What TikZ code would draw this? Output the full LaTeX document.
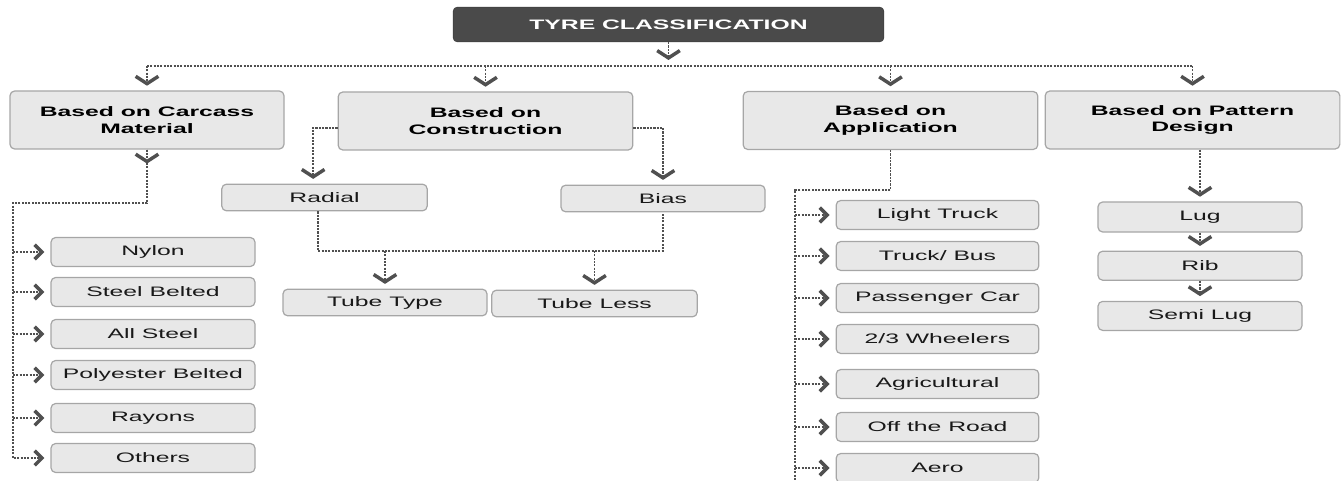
\documentclass[tikz,border=0pt]{standalone}
\usepackage{fontspec}
\setmainfont{Liberation Sans}[FakeStretch=1.8]
\usepackage{tikz}
\usetikzlibrary{arrows.meta}
\usetikzlibrary{positioning}
\definecolor{boxgray}{HTML}{E8E8E8}
\definecolor{edgegray}{HTML}{A6A6A6}
\definecolor{titlegray}{HTML}{4A4A4A}
\definecolor{linkgray}{HTML}{505050}

\begin{document}
\begin{tikzpicture}[x=0.75pt, y=-0.75pt,
                font=\fontsize{10.3}{12.4}\selectfont,
                root/.style={fill=titlegray, draw=titlegray!80!black,
                    rounded corners=3pt, text=white,
                    font=\fontsize{10.3}{12}\selectfont\bfseries,
                    minimum width=323pt, minimum height=26pt, inner sep=0pt},
                cat/.style={fill=boxgray, draw=edgegray, line width=0.9pt,
                    rounded corners=3.5pt, align=center,
                    font=\fontsize{10.3}{12.4}\selectfont\bfseries,
                    minimum width=221pt, minimum height=43.5pt, inner sep=0pt},
                leaf/.style={fill=boxgray, draw=edgegray, line width=0.9pt,
                    rounded corners=3.5pt, text=black!90,
                    minimum width=153pt, minimum height=21.75pt, inner sep=0pt},
                link/.style={draw=linkgray, line width=1.3pt,
                    dash pattern=on 1.6pt off 0.9pt},
                dn/.style={-{Straight Barb[length=5.5pt,width=17pt,line width=2.6pt]},
                    shorten >=3.5pt},
                rt/.style={-{Straight Barb[length=5.5pt,width=11pt,line width=2.6pt]},
                    shorten >=4.5pt}]
    \useasboundingbox (0,0) rectangle (1342,481);

    \node[root] (tyre) at (668.5,24.5) {TYRE CLASSIFICATION};

    \node[cat, minimum width=205.5pt] (carcass) at (147,120) {Based on Carcass\\Material};
    \node[cat] (constr) at (485.5,121) {Based on\\Construction};
    \node[cat] (applic) at (890.5,120.5) {Based on\\Application};
    \node[cat] (pattern) at (1192.5,120) {Based on Pattern\\Design};

    % carcass material
    \node[leaf] (nylon) at (153,252) {Nylon};
    \node[leaf] (steelb) at (153,292) {Steel Belted};
    \node[leaf] (allsteel) at (153,334) {All Steel};
    \node[leaf] (poly) at (153,375) {Polyester Belted};
    \node[leaf] (rayon) at (153,418) {Rayons};
    \node[leaf] (others) at (153,458) {Others};

    % construction
    \node[leaf, minimum width=154pt, minimum height=20pt] (radial) at (324.5,197.5) {Radial};
    \node[leaf, minimum width=153pt, minimum height=20pt] (bias) at (663,198.5) {Bias};
    \node[leaf, minimum width=153pt, minimum height=20pt] (tubetype) at (385,302.5) {Tube Type};
    \node[leaf, minimum width=154pt, minimum height=20pt] (tubeless) at (594.5,303.5) {Tube Less};

    % application
    \node[leaf, minimum width=152pt] (light) at (937.5,215) {Light Truck};
    \node[leaf, minimum width=152pt] (truck) at (937.5,256) {Truck/ Bus};
    \node[leaf, minimum width=152pt] (pass) at (937.5,298) {Passenger Car};
    \node[leaf, minimum width=152pt] (wheel) at (937.5,339) {2/3 Wheelers};
    \node[leaf, minimum width=152pt] (agri) at (937.5,384) {Agricultural};
    \node[leaf, minimum width=152pt] (offroad) at (937.5,427) {Off the Road};
    \node[leaf, minimum width=152pt] (aero) at (937.5,468) {Aero};

    % pattern design
    \node[leaf, minimum height=22.5pt] (lug) at (1200,217) {Lug};
    \node[leaf, below=13.5pt of lug] (rib) {Rib};
    \node[leaf, below=15pt of rib] (semilug) {Semi Lug};

    \coordinate (bushub) at (668.5,66);
    \coordinate (cspine) at (13,203);
    \coordinate (tjoin) at (490,251);
    \coordinate (aspine) at (795,190);
    \coordinate (aend) at (795,481);

    \draw[link, dn, shorten >=4.5pt] (tyre.south) -- (bushub);
    \draw[link] (carcass.north |- bushub) -- (pattern.north |- bushub);
    \foreach \n in {carcass,constr,applic,pattern}
        \draw[link, dn] (\n.north |- bushub) -- (\n.north);

    \draw[link, rt] (carcass.south) |- (cspine) |- (others.west);
    \draw[link, -{Straight Barb[length=5.5pt,width=17pt,line width=2.6pt]}]
        (carcass.south) -- ++(0,14);
    \foreach \n in {nylon,steelb,allsteel,poly,rayon}
        \draw[link, rt] (cspine |- \n.west) -- (\n.west);

    \draw[link, dn] ([yshift=-5pt]constr.west) -| ([xshift=-8.5pt]radial.north);
    \draw[link, dn] ([yshift=-5pt]constr.east) -| (bias.north);
    \draw[link] ([xshift=-5pt]radial.south) |- (tjoin) -| (bias.south);
    \draw[link, dn] (tubetype.north |- tjoin) -- (tubetype.north);
    \draw[link, dn] (tubeless.north |- tjoin) -- (tubeless.north);

    \draw[link] (applic.south) |- (aspine) -- (aend);
    \foreach \n in {light,truck,pass,wheel,agri,offroad,aero}
        \draw[link, rt] (aspine |- \n.west) -- (\n.west);

    \draw[link, dn] (lug.north |- pattern.south) -- (lug.north);
    \draw[link, dn] (lug.south) -- (rib.north);
    \draw[link, dn] (rib.south) -- (semilug.north);
\end{tikzpicture}
\end{document}
